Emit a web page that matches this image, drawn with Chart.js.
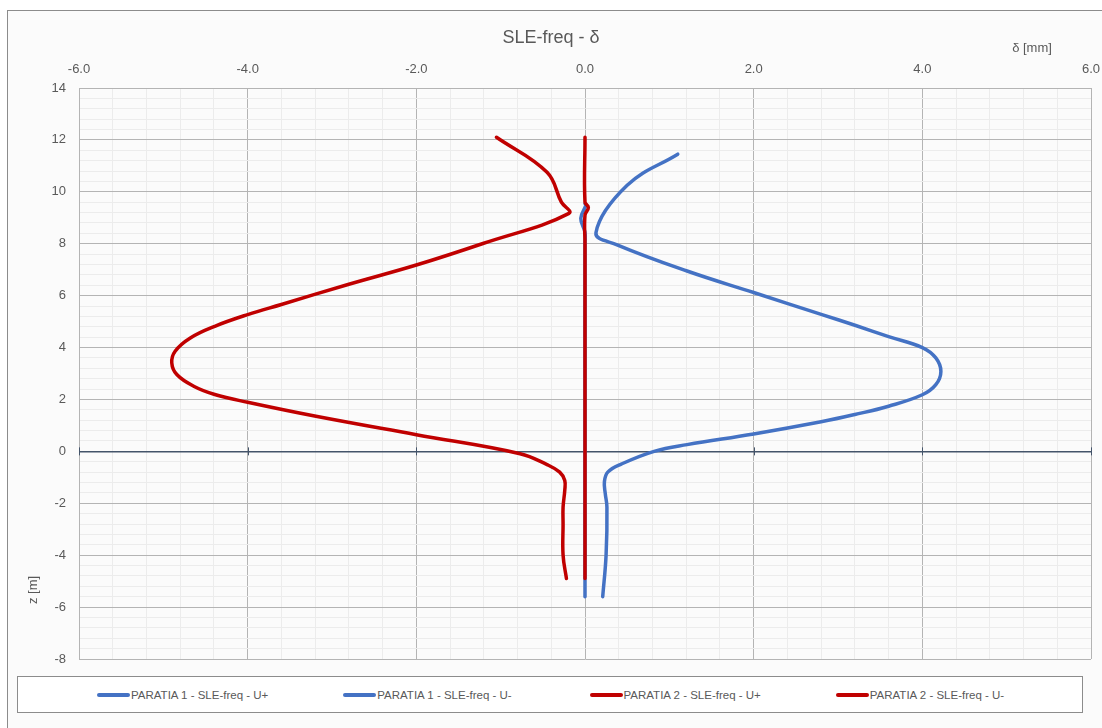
<!DOCTYPE html>
<html>
<head>
<meta charset="utf-8">
<script src="https://cdn.jsdelivr.net/npm/chart.js@4.4.0/dist/chart.umd.min.js"></script>
<style>
    body { margin: 0; background: #fff; }
    #wrap { position: relative; width: 1102px; height: 728px; overflow: hidden; }
    #frame { position: absolute; left: 7px; top: 10px; width: 1100px; height: 730px; border: 1px solid #8c8c8c; background: #fbfbfb; }
    #chart { position: absolute; left: 0; top: 0; }
    #legend { position: absolute; left: 17px; top: 676px; width: 1066px; height: 37px; border: 1px solid #8c8c8c; background: #fff;
        display: flex; align-items: center; padding-left: 79px; box-sizing: border-box;
        font: 11.5px "Liberation Sans", Arial, sans-serif; color: #595959; }
    .item { display: flex; align-items: center; white-space: nowrap; width: 251px; }
    .swatch { width: 33px; height: 4px; border-radius: 2px; margin-right: 1px; }
</style>
</head>
<body>
<div id="wrap">
    <div id="frame"></div>
    <canvas id="chart" width="1102" height="728"></canvas>
    <div id="legend"></div>
</div>
<script>
    // PARATIA 1 - SLE-freq - U+  (delta [mm] vs z [m])
    const zP1Up = [11.45, 10.25, 8.42, 7.96, 6.95, 6.12, 5.27, 4.85, 4.42, 4.00, 3.60, 3.08, 2.57, 2.18, 1.74, 1.42, 1.14, 0.67, 0.26, 0.0, -0.49, -0.80, -1.18, -1.62, -2.15, -4.0, -5.6];
    const dP1Up = [1.10, 0.50, 0.13, 0.38, 1.21, 2.00, 2.81, 3.21, 3.60, 4.00, 4.16, 4.22, 4.16, 4.00, 3.60, 3.20, 2.80, 2.00, 1.21, 0.82, 0.43, 0.27, 0.23, 0.24, 0.26, 0.25, 0.21];

    // PARATIA 1 - SLE-freq - U-
    const zP1Un = [9.55, 9.48, 8.98, 8.44, 8.0, 2.0, -5.6];
    const dP1Un = [0.0, 0.01, -0.05, 0.0, 0.0, 0.0, 0.0];

    // PARATIA 2 - SLE-freq - U+
    const zP2Up = [12.1, 10.75, 9.6, 9.17, 8.01, 7.18, 6.43, 5.66, 5.27, 4.82, 4.37, 3.86, 3.41, 2.96, 2.51, 2.19, 1.89, 1.35, 0.64, -0.09, -0.51, -0.80, -1.12, -1.5, -2.15, -2.8, -4.0, -4.9];
    const dP2Up = [-1.05, -0.45, -0.28, -0.19, -1.21, -2.00, -2.81, -3.60, -4.00, -4.39, -4.68, -4.86, -4.90, -4.84, -4.64, -4.39, -4.00, -3.19, -2.00, -0.77, -0.45, -0.30, -0.24, -0.24, -0.26, -0.26, -0.26, -0.22];

    // PARATIA 2 - SLE-freq - U-
    const zP2Un = [12.1, 9.6, 9.4, 9.1, 8.0, 2.0, -4.9];
    const dP2Un = [0.0, 0.0, 0.04, 0.0, 0.0, 0.0, 0.0];

    const seriesNames = ['PARATIA 1 - SLE-freq - U+', 'PARATIA 1 - SLE-freq - U-', 'PARATIA 2 - SLE-freq - U+', 'PARATIA 2 - SLE-freq - U-'];
    const seriesColors = ['#4472C4', '#4472C4', '#C00000', '#C00000'];

    function pts(d, z) {
        return d.map(function(v, i) { return { x: v, y: z[i] }; });
    }

    function isMajor(v) {
        return Math.abs(v / 2 - Math.round(v / 2)) < 1e-6;
    }

    const tickFont = { family: '"Liberation Sans", Arial, sans-serif', size: 13 };

    // axis titles and the tick marks on the z = 0 axis line
    const extras = {
        id: 'extras',
        beforeDatasetsDraw(chart) {
            const ctx = chart.ctx;
            const xs = chart.scales.x, ys = chart.scales.y;
            const y0 = ys.getPixelForValue(0);
            ctx.save();
            ctx.strokeStyle = '#44546a';
            ctx.lineWidth = 1;
            for (let v = -6; v <= 6; v += 2) {
                const px = Math.round(xs.getPixelForValue(v)) + 0.5;
                ctx.beginPath();
                ctx.moveTo(px, y0 - 4);
                ctx.lineTo(px, y0 + 4);
                ctx.stroke();
            }
            ctx.restore();
        },
        afterDraw(chart) {
            const ctx = chart.ctx;
            ctx.save();
            ctx.fillStyle = '#595959';
            ctx.font = '13px "Liberation Sans", Arial, sans-serif';
            ctx.textAlign = 'center';
            ctx.textBaseline = 'middle';
            ctx.fillText('δ [mm]', 1032, 48);
            ctx.translate(33, 590);
            ctx.rotate(-Math.PI / 2);
            ctx.fillText('z [m]', 0, 0);
            ctx.restore();
        }
    };

    const ctx = document.getElementById('chart').getContext('2d');
    const chart = new Chart(ctx, {
        type: 'scatter',
        data: {
            datasets: [
                { label: seriesNames[0], data: pts(dP1Up, zP1Up), order: 3 },
                { label: seriesNames[1], data: pts(dP1Un, zP1Un), order: 2 },
                { label: seriesNames[2], data: pts(dP2Up, zP2Up), order: 1 },
                { label: seriesNames[3], data: pts(dP2Un, zP2Un), order: 0 }
            ].map(function(ds, i) {
                ds.borderColor = seriesColors[i];
                ds.backgroundColor = seriesColors[i];
                ds.borderWidth = 3.5;
                ds.showLine = true;
                ds.pointRadius = 0;
                ds.tension = 0.4;
                ds.borderCapStyle = 'round';
                ds.borderJoinStyle = 'round';
                return ds;
            })
        },
        options: {
            responsive: false,
            animation: false,
            layout: { padding: { left: 0, right: 0, top: 0, bottom: 69 } },
            plugins: {
                legend: { display: false },
                tooltip: { enabled: false },
                title: {
                    display: true,
                    text: 'SLE-freq - δ',
                    color: '#595959',
                    font: { family: '"Liberation Sans", Arial, sans-serif', size: 18, weight: 'normal' },
                    padding: { top: 27, bottom: 0 }
                }
            },
            scales: {
                x: {
                    position: 'top',
                    min: -6,
                    max: 6,
                    afterFit: function(scale) {
                        scale.height = 39.4;
                        scale.paddingRight = 11;
                    },
                    ticks: {
                        stepSize: 0.4,
                        autoSkip: false,
                        maxRotation: 0,
                        padding: 11,
                        color: '#595959',
                        font: tickFont,
                        callback: function(v) { return isMajor(v) ? v.toFixed(1) : ''; }
                    },
                    grid: {
                        drawTicks: false,
                        color: function(c) { return c.tick && isMajor(c.tick.value) ? '#b4b4b4' : '#ececec'; },
                        lineWidth: 1
                    },
                    border: { color: '#b4b4b4' }
                },
                y: {
                    min: -8,
                    max: 14,
                    afterFit: function(scale) { scale.width = 79; },
                    ticks: {
                        stepSize: 0.4,
                        autoSkip: false,
                        padding: 13,
                        color: '#595959',
                        font: tickFont,
                        callback: function(v) { return isMajor(v) ? Math.round(v).toString() : ''; }
                    },
                    grid: {
                        drawTicks: false,
                        color: function(c) {
                            if (!c.tick) return '#ececec';
                            if (Math.abs(c.tick.value) < 1e-6) return '#44546a';
                            return isMajor(c.tick.value) ? '#b4b4b4' : '#ececec';
                        },
                        lineWidth: function(c) { return c.tick && Math.abs(c.tick.value) < 1e-6 ? 1.5 : 1; }
                    },
                    border: { color: '#b4b4b4' }
                }
            }
        },
        plugins: [extras]
    });

    // legend built from the chart's datasets, in dataset order
    const legend = document.getElementById('legend');
    chart.data.datasets.forEach(function(ds) {
        const item = document.createElement('div');
        item.className = 'item';
        const sw = document.createElement('span');
        sw.className = 'swatch';
        sw.style.background = ds.borderColor;
        const txt = document.createElement('span');
        txt.textContent = ds.label;
        item.appendChild(sw);
        item.appendChild(txt);
        legend.appendChild(item);
    });
</script>
</body>
</html>
